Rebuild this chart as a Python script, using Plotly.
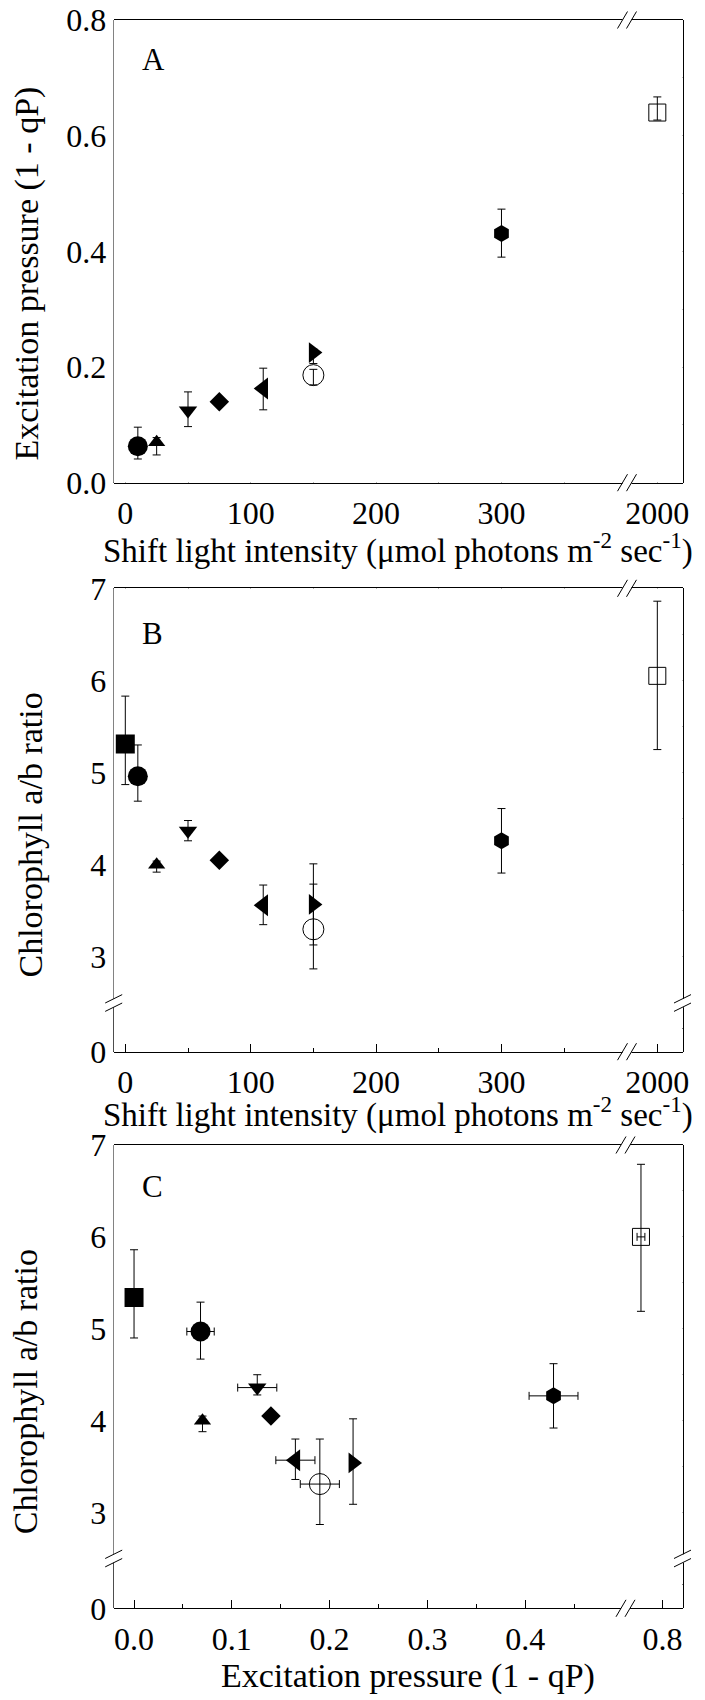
import plotly.graph_objects as go

W, H = 705, 1700
FONT = "Liberation Serif"

# ---------------- data ----------------
symbols = ["square", "circle", "triangle-up", "triangle-down", "diamond",
           "triangle-left", "circle-open", "triangle-right", "hexagon", "square-open"]

light = [0, 10, 25, 50, 75, 110, 150, 150, 300, 2000]

excit_A = [None, 0.063, 0.070, 0.125, 0.140, 0.163, 0.186, 0.225, 0.431, 0.640]
excit_A_plus = [None, 0.033, 0.008, 0.032, 0.0, 0.035, 0.010, 0.006, 0.042, 0.027]
excit_A_minus = [None, 0.022, 0.022, 0.028, 0.0, 0.037, 0.017, 0.019, 0.041, 0.013]

chl_B = [5.31, 4.96, 4.00, 4.37, 4.05, 3.56, 3.30, 3.57, 4.26, 6.05]
chl_B_plus = [0.52, 0.34, 0.04, 0.11, 0.0, 0.22, 0.49, 0.44, 0.35, 0.81]
chl_B_minus = [0.44, 0.27, 0.08, 0.11, 0.0, 0.21, 0.43, 0.44, 0.35, 0.80]

excit_C = [0.0, 0.068, 0.070, 0.126, 0.140, 0.165, 0.190, 0.224, 0.429, 0.778]
excit_C_err = [0.0, 0.014, 0.0, 0.020, 0.0, 0.020, 0.020, 0.0, 0.025, 0.004]
chl_C = [5.34, 4.97, 4.00, 4.36, 4.05, 3.57, 3.31, 3.54, 4.27, 6.00]
chl_C_plus = [0.52, 0.32, 0.05, 0.14, 0.0, 0.23, 0.49, 0.48, 0.35, 0.79]
chl_C_minus = [0.44, 0.30, 0.12, 0.08, 0.0, 0.21, 0.44, 0.45, 0.35, 0.81]

light_ticks_main = [0, 100, 200, 300]
light_minor_main = [50, 150, 250, 350]
light_ticks_break = [2000]
excit_ticks_main = [0.0, 0.1, 0.2, 0.3, 0.4]
excit_minor_main = [0.05, 0.15, 0.25, 0.35, 0.45]
excit_ticks_break = [0.8]
excitA_ticks = [0.0, 0.2, 0.4, 0.6, 0.8]
excitA_minor = [0.1, 0.3, 0.5, 0.7]
chl_ticks = [3, 4, 5, 6, 7]
chl_minor = [3.5, 4.5, 5.5, 6.5]

# ---------------- styles ----------------
marker_size = {"square": 19, "circle": 20, "triangle-up": 15, "triangle-down": 16,
               "diamond": 15, "triangle-left": 19, "circle-open": 21,
               "triangle-right": 18, "hexagon": 17, "square-open": 17}

L, R = 113.7, 682.5
panels = {
    "A": dict(T=20.0, B=482.7, YB=None, XB=627.0),
    "B": dict(T=588.3, B=1051.7, YB=1003.0, XB=627.0),
    "C": dict(T=1145.0, B=1608.3, YB=1558.5, XB=625.5),
}
XSTAND, YSTAND = 2, 0


def px(x):
    return x / W


def py(y):
    return 1 - y / H


def axstyle(**kw):
    d = dict(showline=True, linecolor="black", linewidth=1, mirror="ticks",
             ticks="inside", ticklen=8, tickwidth=1, tickcolor="black",
             showgrid=False, zeroline=False, automargin=False,
             tickfont=dict(family=FONT, size=32, color="black"))
    d.update(kw)
    return d


def bare(**kw):
    d = dict(showline=False, showgrid=False, zeroline=False, ticks="",
             showticklabels=False, range=[0, 1], fixedrange=True, automargin=False)
    d.update(kw)
    return d


def minor(vals):
    return dict(tickvals=vals, ticks="inside", ticklen=4, tickwidth=1,
                tickcolor="black", showgrid=False)


layout = dict(template="none", width=W, height=H, margin=dict(l=0, r=0, t=0, b=0, pad=0),
              paper_bgcolor="white", plot_bgcolor="white", showlegend=False)

shapes = []
annotations = []
fig = go.Figure()


def dummy(xa, ya):
    fig.add_trace(go.Scatter(x=[], y=[], xaxis=xa, yaxis=ya, mode="markers",
                             hoverinfo="skip", showlegend=False))


def xbreak(xc, yc):
    shapes.append(dict(type="line", xref="paper", yref="paper",
                       x0=px(xc - 4.5), x1=px(xc + 4.5), y0=py(yc), y1=py(yc),
                       line=dict(color="white", width=3), layer="above"))
    for c in (xc - 4.5, xc + 4.5):
        shapes.append(dict(type="line", xref="paper", yref="paper",
                           x0=px(c - 5), y0=py(yc + 8.5), x1=px(c + 5), y1=py(yc - 8.5),
                           line=dict(color="black", width=1), layer="above"))


def ybreak(xc, yc):
    shapes.append(dict(type="line", xref="paper", yref="paper",
                       x0=px(xc), x1=px(xc), y0=py(yc - 4.2), y1=py(yc + 4.2),
                       line=dict(color="white", width=3), layer="above"))
    for c in (yc - 4.2, yc + 4.2):
        shapes.append(dict(type="line", xref="paper", yref="paper",
                           x0=px(xc - 8.5), y0=py(c + 4.2), x1=px(xc + 8.5), y1=py(c - 4.2),
                           line=dict(color="black", width=1), layer="above"))


def add_points(xs, ys, yp, ym, xa, ya, xerr=None):
    for i, s in enumerate(symbols):
        if ys[i] is None or xs[i] is None:
            continue
        open_ = s.endswith("-open")
        tr = dict(x=[xs[i]], y=[ys[i]], mode="markers", xaxis=xa, yaxis=ya,
                  marker=dict(symbol=s, size=marker_size[s], color="black",
                              line=dict(color="black", width=1 if open_ else 0)),
                  error_y=dict(type="data", symmetric=False, array=[yp[i]],
                               arrayminus=[ym[i]], color="black", thickness=1,
                               width=4, visible=(yp[i] > 0 or ym[i] > 0)),
                  hoverinfo="skip", showlegend=False)
        if xerr is not None:
            tr["error_x"] = dict(type="data", array=[xerr[i]], color="black",
                                 thickness=1, width=4, visible=xerr[i] > 0)
        fig.add_trace(go.Scatter(**tr))


def sub(lst, keep):
    return [v if (v is not None and keep(v)) else None for v in lst]


# axis ids per panel: (xfull, yfull, xseg1, xseg2, yup, ylow)
ids = {"A": ("x", "y", "x2", "x3", "y2", None),
       "B": ("x4", "y3", "x5", "x6", "y4", "y5"),
       "C": ("x7", "y6", "x8", "x9", "y7", "y8")}


def lname(a):
    return ("xaxis" if a[0] == "x" else "yaxis") + a[1:]


for k, p in panels.items():
    xf, yf, xs1, xs2, yu, yl = ids[k]
    layout[lname(xf)] = bare(domain=[px(L), px(R)], anchor=yf)
    layout[lname(yf)] = bare(domain=[py(p["B"]), py(p["T"])], anchor=xf)
    dummy(xf, yf)
    dummy(xs1, yf)
    dummy(xs2, yf)
    dummy(xf, yu)
    if yl:
        dummy(xf, yl)
    if k in ("A", "B"):
        layout[lname(xs1)] = axstyle(domain=[px(L), px(p["XB"])], anchor=yf,
                                     range=[-9.25, 400.1], tickvals=light_ticks_main,
                                     minor=minor(light_minor_main), ticklabelstandoff=XSTAND)
        layout[lname(xs2)] = axstyle(domain=[px(p["XB"]), px(R)], anchor=yf,
                                     range=[1975.8, 2020.1], tickvals=light_ticks_break,
                                     ticklabelstandoff=XSTAND)
    else:
        layout[lname(xs1)] = axstyle(domain=[px(L), px(p["XB"])], anchor=yf,
                                     range=[-0.0208, 0.5026], tickvals=excit_ticks_main,
                                     ticktext=["%.1f" % v for v in excit_ticks_main],
                                     minor=minor(excit_minor_main), ticklabelstandoff=XSTAND)
        layout[lname(xs2)] = axstyle(domain=[px(p["XB"]), px(R)], anchor=yf,
                                     range=[0.7622, 0.8204], tickvals=excit_ticks_break,
                                     ticktext=["%.1f" % v for v in excit_ticks_break],
                                     ticklabelstandoff=XSTAND)
    if k == "A":
        layout[lname(yu)] = axstyle(domain=[py(p["B"]), py(p["T"])], anchor=xf,
                                    range=[0, 0.8], tickvals=excitA_ticks,
                                    ticktext=["%.1f" % v for v in excitA_ticks],
                                    minor=minor(excitA_minor), ticklabelstandoff=YSTAND)
    else:
        layout[lname(yu)] = axstyle(domain=[py(p["YB"]), py(p["T"])], anchor=xf,
                                    range=[2.5, 7], tickvals=chl_ticks,
                                    minor=minor(chl_minor), ticklabelstandoff=YSTAND)
        layout[lname(yl)] = axstyle(domain=[py(p["B"]), py(p["YB"])], anchor=xf,
                                    range=[0, 0.53], tickvals=[0],
                                    minor=minor([0.25]), ticklabelstandoff=YSTAND)

# ---------------- data traces ----------------
add_points(sub(light, lambda v: v <= 400), excit_A, excit_A_plus, excit_A_minus, "x2", "y2")
add_points(sub(light, lambda v: v > 400), excit_A, excit_A_plus, excit_A_minus, "x3", "y2")

add_points(sub(light, lambda v: v <= 400), chl_B, chl_B_plus, chl_B_minus, "x5", "y4")
add_points(sub(light, lambda v: v > 400), chl_B, chl_B_plus, chl_B_minus, "x6", "y4")

add_points(sub(excit_C, lambda v: v <= 0.5), chl_C, chl_C_plus, chl_C_minus, "x8", "y7",
           xerr=excit_C_err)
add_points(sub(excit_C, lambda v: v > 0.5), chl_C, chl_C_plus, chl_C_minus, "x9", "y7",
           xerr=excit_C_err)

# ---------------- breaks ----------------
for k, p in panels.items():
    xbreak(p["XB"], p["T"])
    xbreak(p["XB"], p["B"])
    if p["YB"] is not None:
        ybreak(L, p["YB"])
        ybreak(R, p["YB"])


# ---------------- text ----------------
def ann(text, x, y, size, xanchor="center", yanchor="middle", angle=0):
    annotations.append(dict(text=text, x=px(x), y=py(y), xref="paper", yref="paper",
                            xanchor=xanchor, yanchor=yanchor, textangle=angle,
                            showarrow=False, font=dict(family=FONT, size=size, color="black")))


for lab, (x, y) in {"A": (153.7, 59.7), "B": (152.5, 633.7), "C": (152.5, 1186.7)}.items():
    ann(lab, x, y, 31)

xt = "Shift light intensity (\u03bcmol photons m<sup>-2</sup> sec<sup>-1</sup>)"
ann(xt, 398, 565 + 7, 33, yanchor="bottom")
ann(xt, 398, 1129 + 7, 33, yanchor="bottom")
ann("Excitation pressure (1 - qP)", 408, 1690 + 7, 34, yanchor="bottom")
ann("Excitation pressure (1 - qP)", 26.5, 274, 34, angle=-90)
ann("Chlorophyll a/b ratio", 29.5, 835, 34, angle=-90)
ann("Chlorophyll a/b ratio", 25.5, 1391.7, 34, angle=-90)

layout["shapes"] = shapes
layout["annotations"] = annotations
fig.update_layout(**layout)
fig.write_html("out.html")
